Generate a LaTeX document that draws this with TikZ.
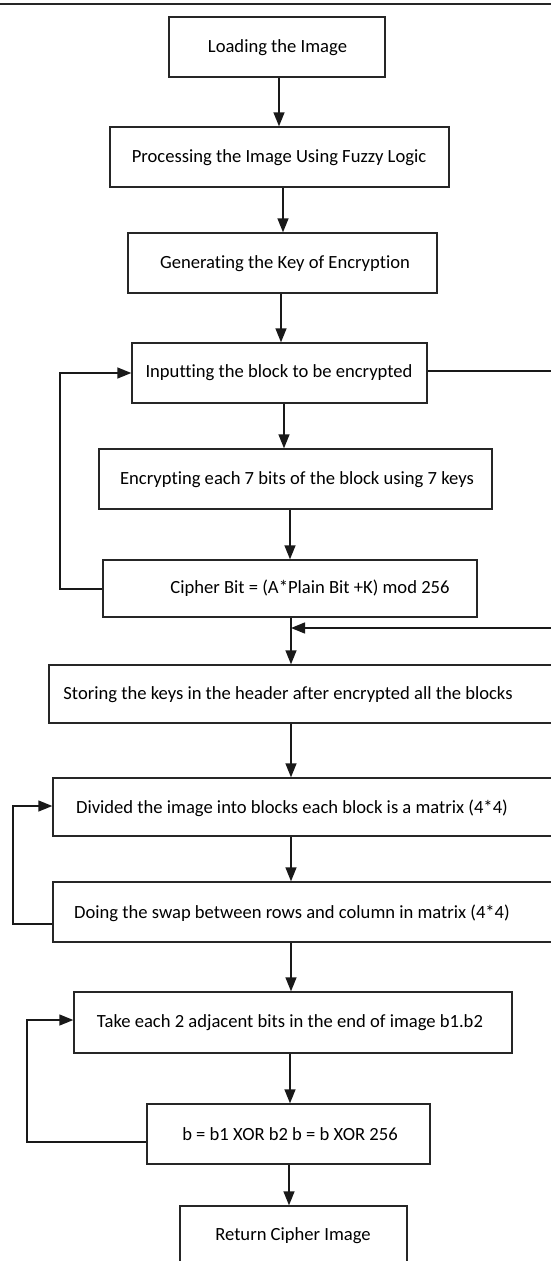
\documentclass[tikz,border=0pt]{standalone}
\usepackage{fontspec}
\setmainfont{Carlito}[Ligatures={NoCommon}]
\usetikzlibrary{arrows.meta}
\tikzset{
  box/.style={draw=black!85, line width=1.4pt, rectangle, inner sep=0pt},
  txt/.style={font=\fontsize{18.6}{21}\selectfont, inner sep=0pt, text=black},
  arr/.style={draw=black!90, line width=1.4pt, -{Triangle[length=14pt,width=11pt]}},
  ln/.style={draw=black!90, line width=1.4pt}
}
\newcommand{\flowbox}[5]{% name, x0, y0, x1, y1
  \node[box, minimum width={(#4-#2)*1pt}, minimum height={(#5-#3)*1pt}]
    (#1) at ({(#2+#4)/2},{(#3+#5)/2}) {};}
\begin{document}
\begin{tikzpicture}[x=1pt, y=-1pt]
\clip (0,0) rectangle (551,1261);
\useasboundingbox (0,0) rectangle (551,1261);
\fill[white] (0,0) rectangle (551,1261);

% top rule
\draw[black!85, line width=2.6pt] (0,4) -- (551,4);

% process boxes
\flowbox{b1}{169}{17}{385}{77}
\flowbox{b2}{110}{127}{449}{187}
\flowbox{b3}{128}{233}{437}{293}
\flowbox{b4}{132}{343}{427}{403}
\flowbox{b5}{99}{449}{492}{509}
\flowbox{b6}{103}{560}{477}{617}
\flowbox{b7}{49}{665}{575}{723}
\flowbox{b8}{53}{778}{575}{836}
\flowbox{b9}{53}{882}{575}{942}
\flowbox{b10}{74}{992}{512}{1053}
\flowbox{b11}{147}{1104}{430}{1164}
\flowbox{b12}{180}{1206}{407}{1290}

% box texts
\node[txt] (t1)  at (277.5,48) {Loading the Image};
\node[txt] (t2)  at (279,158) {Processing the Image Using Fuzzy Logic};
\node[txt] (t3)  at (285,264) {Generating the Key of Encryption};
\node[txt] (t4)  at (279,373) {Inputting the block to be encrypted};
\node[txt] (t5)  at (297,480) {Encrypting each 7 bits of the block using 7 keys};
\node[txt] (t6)  at (310,588) {Cipher Bit = (A*Plain Bit +K) mod 256};
\node[txt] (t7)  at (288,695) {Storing the keys in the header after encrypted all the blocks};
\node[txt] (t8)  at (292,808) {Divided the image into blocks each block is a matrix (4*4)};
\node[txt] (t9)  at (292,913) {Doing the swap between rows and column in matrix (4*4)};
\node[txt] (t10) at (290,1023) {Take each 2 adjacent bits in the end of image b1.b2};
\node[txt] (t11) at (290,1134) {b = b1 XOR b2 b = b XOR 256};
\node[txt] (t12) at (293,1236) {Return Cipher Image};

% main flow
\draw[arr] (b1.south -| 279,0) -- (b2.north -| 279,0);
\draw[arr] (b2.south -| 283,0) -- (b3.north -| 283,0);
\draw[arr] (b3.south -| 281,0) -- (b4.north -| 281,0);
\draw[arr] (b4.south -| 284,0) -- (b5.north -| 284,0);
\draw[arr] (b5.south -| 290,0) -- (b6.north -| 290,0);
\draw[arr] (b6.south -| 291,0) -- (b7.north -| 291,0);
\draw[arr] (b7.south -| 291,0) -- (b8.north -| 291,0);
\draw[arr] (b8.south -| 291,0) -- (b9.north -| 291,0);
\draw[arr] (b9.south -| 291,0) -- (b10.north -| 291,0);
\draw[arr] (b10.south -| 290,0) -- (b11.north -| 290,0);
\draw[arr] (b11.south -| 289,0) -- (b12.north -| 289,0);

% loops
\coordinate (j1) at (291,628);
\draw[arr] (b6.west |- 0,589) -- (60,589) -- (60,373) -- (b4.west |- 0,373);
\draw[arr] (b4.east |- 0,371) -- (565,371) -- (565,628) -- (j1);
\draw[arr] (b9.west |- 0,924) -- (13,924) -- (13,806) -- (b8.west |- 0,806);
\draw[arr] (b11.west |- 0,1142) -- (27,1142) -- (27,1020) -- (b10.west |- 0,1020);
\end{tikzpicture}
\end{document}
